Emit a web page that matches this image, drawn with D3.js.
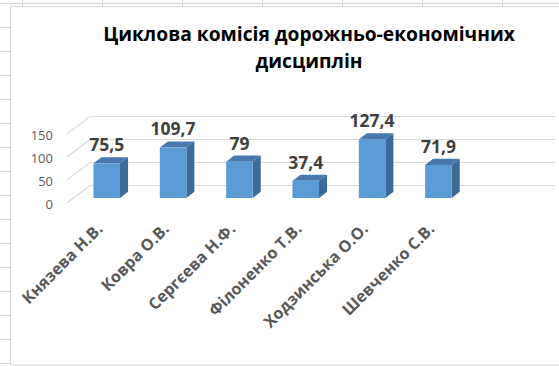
<!DOCTYPE html>
<html>
<head>
<meta charset="utf-8">
<script src="https://cdn.jsdelivr.net/npm/d3@7"></script>
<style>
  html, body { margin: 0; padding: 0; background: #fff; }
  svg { display: block; font-family: "Open Sans", "Noto Sans", sans-serif; }
</style>
</head>
<body>
<svg id="chart" width="559" height="366"></svg>
<script>
'use strict';

var teachers = ['Князева Н.В.', 'Ковра О.В.', 'Сергєева Н.Ф.', 'Філоненко Т.В.', 'Ходзинська О.О.', 'Шевченко С.В.'];
var hours = [75.5, 109.7, 79, 37.4, 127.4, 71.9];
var yTicks = [0, 50, 100, 150];
var titleLines = ['Циклова комісія дорожньо-економічних', 'дисциплін'];

var w = 559,
    h = 366;

var svg = d3.select('#chart');

/** spreadsheet grid behind the chart object */
var sheet = svg.append('g').attr('stroke', '#d4d4d4').attr('stroke-width', 1);
d3.range(0, 16).forEach(function(k) {
    var yy = 3.5 + 24 * k;
    sheet.append('line').attr('x1', 0).attr('x2', k === 0 ? w : 10).attr('y1', yy).attr('y2', yy);
});
d3.range(0, 7).forEach(function(k) {
    var xx = 22.5 + 80 * k;
    sheet.append('line').attr('x1', xx).attr('x2', xx).attr('y1', 0).attr('y2', 6);
});

/** chart box */
svg.append('rect')
    .attr('x', 10.5).attr('y', 6.5)
    .attr('width', w + 10).attr('height', 358.5)
    .attr('fill', '#fff')
    .attr('stroke', '#d9d9d9');

/** fit a text element to a given width */
function fit(sel, target) {
    var s = parseFloat(sel.style('font-size'));
    var len = sel.node().getComputedTextLength();
    sel.style('font-size', (s * target / len) + 'px');
    return s * target / len;
}

/** title */
var t1 = svg.append('text')
    .attr('x', 309).attr('y', 41)
    .attr('text-anchor', 'middle')
    .attr('font-weight', 'bold')
    .attr('fill', '#000')
    .style('font-size', '18px')
    .text(titleLines[0]);
var titleSize = fit(t1, 412);
svg.append('text')
    .attr('x', 309).attr('y', 68)
    .attr('text-anchor', 'middle')
    .attr('font-weight', 'bold')
    .attr('fill', '#000')
    .style('font-size', titleSize + 'px')
    .text(titleLines[1]);

/** 3D plot geometry */
var depthX = 23,
    depthY = -17.5,
    gridRight = 555,
    barT0 = 0.286,
    barT1 = 0.636;

var x = d3.scaleBand()
    .domain(teachers)
    .range([67, 465])
    .paddingInner(0.6)
    .paddingOuter(0.3);

var y = d3.scaleLinear()
    .domain([0, 150])
    .range([203, 134]);

/** gridlines: side wall diagonal + back wall */
svg.append('g').selectAll('path')
    .data(yTicks)
    .enter()
    .append('path')
    .attr('fill', 'none')
    .attr('stroke', '#d9d9d9')
    .attr('stroke-width', 1.2)
    .attr('d', function(d) {
        var x0 = x.range()[0];
        return 'M' + x0 + ',' + y(d) +
            'L' + (x0 + depthX) + ',' + (y(d) + depthY) +
            'L' + gridRight + ',' + (y(d) + depthY);
    });

/** y tick labels */
svg.append('g').selectAll('text')
    .data(yTicks)
    .enter()
    .append('text')
    .attr('x', 53)
    .attr('y', function(d) { return y(d) + 1; })
    .attr('dy', '0.35em')
    .attr('text-anchor', 'end')
    .attr('fill', '#595959')
    .style('font-size', '13px')
    .text(function(d) { return d; });

/** bars */
var bw = x.bandwidth();
var ddx = depthX * (barT1 - barT0),
    ddy = depthY * (barT1 - barT0);

function pts(arr) {
    return arr.map(function(p) { return p.join(','); }).join(' ');
}

var bars = svg.append('g').selectAll('g')
    .data(hours)
    .enter()
    .append('g');

function geo(d, i) {
    var xl = x(teachers[i]) + depthX * barT0;
    var xr = xl + bw;
    var yb = y(0) + depthY * barT0;
    var yt = y(d) + depthY * barT0;
    return { xl: xl, xr: xr, yb: yb, yt: yt };
}

bars.append('polygon')
    .attr('fill', '#3d6a96')
    .attr('points', function(d, i) {
        var g = geo(d, i);
        return pts([[g.xr, g.yt], [g.xr + ddx, g.yt + ddy], [g.xr + ddx, g.yb + ddy], [g.xr, g.yb]]);
    });

bars.append('polygon')
    .attr('fill', '#4878ad')
    .attr('points', function(d, i) {
        var g = geo(d, i);
        return pts([[g.xl, g.yt], [g.xr, g.yt], [g.xr + ddx, g.yt + ddy], [g.xl + ddx, g.yt + ddy]]);
    });

bars.append('rect')
    .attr('fill', '#5b9bd5')
    .attr('x', function(d, i) { return geo(d, i).xl; })
    .attr('y', function(d, i) { return geo(d, i).yt; })
    .attr('width', bw)
    .attr('height', function(d, i) { var g = geo(d, i); return g.yb - g.yt; });

/** value labels */
svg.append('g').selectAll('text')
    .data(hours)
    .enter()
    .append('text')
    .attr('x', function(d, i) { return geo(d, i).xl + bw / 2; })
    .attr('y', function(d, i) { return geo(d, i).yt + ddy - 6; })
    .attr('text-anchor', 'middle')
    .attr('font-weight', 'bold')
    .attr('fill', '#404040')
    .style('font-size', '17.5px')
    .text(function(d) { return String(d).replace('.', ','); });

/** category labels, rotated */
var cats = svg.append('g').selectAll('text')
    .data(teachers)
    .enter()
    .append('text')
    .attr('transform', function(d, i) {
        var cx = x(d) + depthX * barT0 + bw / 2 - 3;
        return 'translate(' + cx + ',230) rotate(-45)';
    })
    .attr('text-anchor', 'end')
    .attr('font-weight', 'bold')
    .attr('fill', '#595959')
    .style('font-size', '16px')
    .text(function(d) { return d; });
var catSize = fit(d3.select(cats.nodes()[0]), 106);
cats.style('font-size', catSize + 'px');
</script>
</body>
</html>
